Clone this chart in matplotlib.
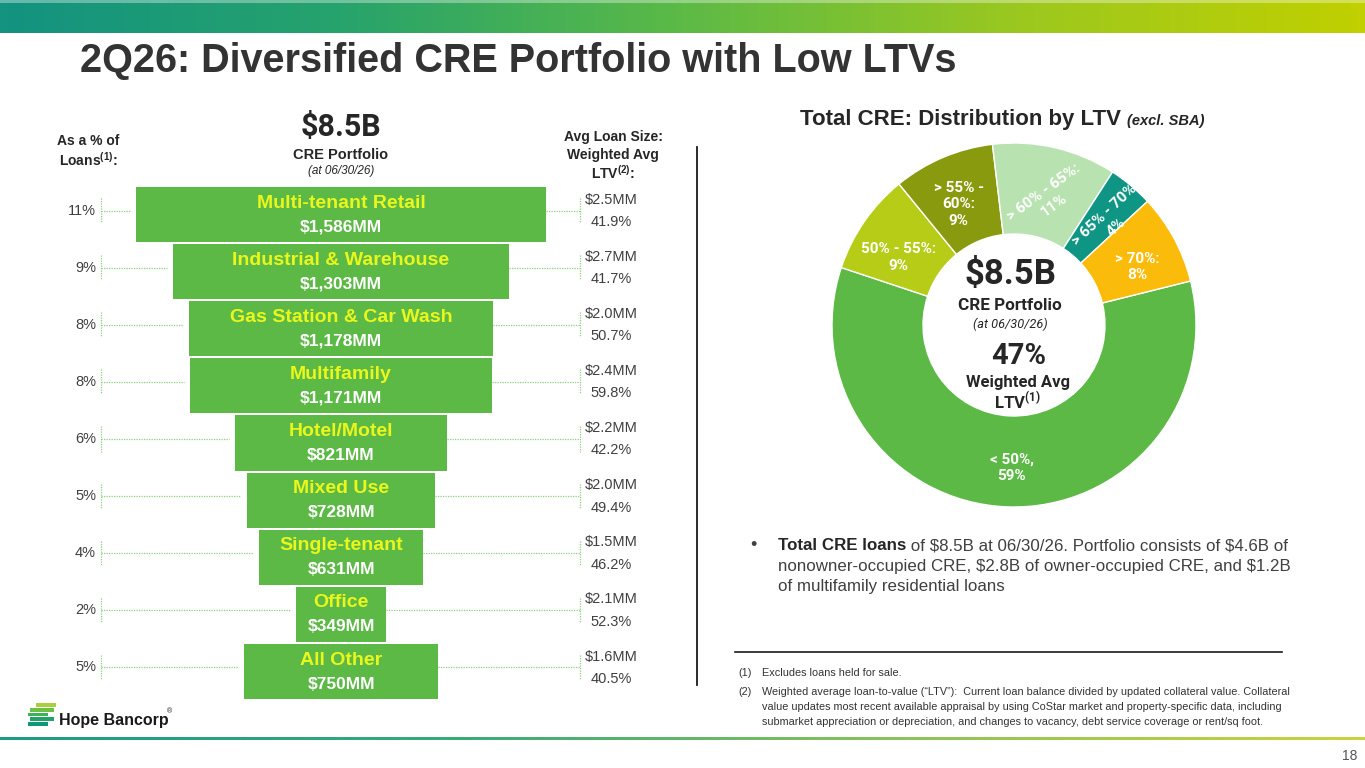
import numpy as np
import matplotlib
matplotlib.use("Agg")
import matplotlib.pyplot as plt
from matplotlib.colors import LinearSegmentedColormap
from matplotlib.patches import Rectangle

# ---- data ----
categories = ["Multi-tenant Retail", "Industrial & Warehouse", "Gas Station & Car Wash",
              "Multifamily", "Hotel/Motel", "Mixed Use", "Single-tenant", "Office", "All Other"]
balances_mm = [1586, 1303, 1178, 1171, 821, 728, 631, 349, 750]
pct_of_loans = ["11%", "9%", "8%", "8%", "6%", "5%", "4%", "2%", "5%"]
avg_loan_size = ["\\$2.5MM", "\\$2.7MM", "\\$2.0MM", "\\$2.4MM", "\\$2.2MM", "\\$2.0MM", "\\$1.5MM", "\\$2.1MM", "\\$1.6MM"]
wavg_ltv = ["41.9%", "41.7%", "50.7%", "59.8%", "42.2%", "49.4%", "46.2%", "52.3%", "40.5%"]

ltv_buckets = ["< 50%,\n59%", "50% - 55%:\n9%", "> 55% -\n60%:\n9%",
               "> 60% - 65%:\n11%", "> 65% - 70%\n4%", "> 70%:\n8%"]
ltv_share = [59, 9, 9, 11, 4, 8]
ltv_colors = ["#5cb946", "#b6cc17", "#8a9a0e", "#b9e2b1", "#0e9583", "#fbbb0a"]

NARROW = ["Liberation Sans Narrow", "Liberation Sans", "DejaVu Sans"]
ARIAL = ["Liberation Sans", "DejaVu Sans"]
ROBOTO = ["Roboto", "DejaVu Sans"]
BAR_GREEN = "#5cb946"
DARK = "#262626"

fig = plt.figure(figsize=(13.65, 7.68), dpi=100)
bg = fig.add_axes([0, 0, 1, 1])
bg.axis("off")

# header band + bottom line
hdr = LinearSegmentedColormap.from_list("hdr", ["#139380", "#27a36c", "#5cba46", "#9cc81f", "#c0d000"])
grad = np.linspace(0, 1, 400).reshape(1, -1)
bg.imshow(grad, cmap=hdr, extent=[0, 1365, 33, 0], aspect="auto", zorder=0)
bg.add_patch(Rectangle((0, 0), 1365, 2.5, color="white", alpha=0.35, lw=0, zorder=1))
foot = LinearSegmentedColormap.from_list("ft", ["#1f9a86", "#3aa97a", "#8cc35a", "#c9d43c"])
bg.imshow(grad, cmap=foot, extent=[0, 1365, 740, 737], aspect="auto", zorder=0)
bg.set_xlim(0, 1365)
bg.set_ylim(768, 0)

bg.text(80, 61, "2Q26: Diversified CRE Portfolio with Low LTVs", fontsize=28.5,
        fontweight="bold", color="#333333", family=NARROW, va="center", ha="left")

# left headers
bg.text(341, 127, "\\$8.5B", fontsize=22, fontweight="bold", color=DARK, family=ROBOTO, ha="center", va="center")
bg.text(341, 155, "CRE Portfolio", fontsize=10.5, fontweight="bold", color=DARK, family=NARROW, ha="center", va="center")
bg.text(341, 171, "(at 06/30/26)", fontsize=8.5, style="italic", color=DARK, family=NARROW, ha="center", va="center")
bg.text(88, 141, "As a % of", fontsize=10, fontweight="bold", color=DARK, family=NARROW, ha="center", va="center")
bg.text(88, 160, r"Loans$^{\mathregular{(1)}}$:", fontsize=10, fontweight="bold", color=DARK, family=NARROW, ha="center", va="center")
bg.text(613, 137, "Avg Loan Size:", fontsize=10, fontweight="bold", color=DARK, family=NARROW, ha="center", va="center")
bg.text(613, 155, "Weighted Avg", fontsize=10, fontweight="bold", color=DARK, family=NARROW, ha="center", va="center")
bg.text(613, 173, r"LTV$^{\mathregular{(2)}}$:", fontsize=10, fontweight="bold", color=DARK, family=NARROW, ha="center", va="center")

# ---- funnel bars ----
px_per_mm = 0.2585
ax = fig.add_axes([0, (768 - 700) / 768, 682 / 1365, 514 / 768])
half = 341 / px_per_mm
ax.set_xlim(-half, half)
ax.set_ylim(len(categories) - 0.5, -0.5)
ax.axis("off")


def px2x(px):
    return (px - 341) / px_per_mm


vals = np.array(balances_mm, dtype=float)
ypos = np.arange(len(categories))
ax.barh(ypos, vals, left=-vals / 2, height=0.965, color=BAR_GREEN, edgecolor="none")

conn = dict(color="#8fcf80", lw=0.9, ls=(0, (1, 1)), clip_on=False)
for i, (cat, v) in enumerate(zip(categories, vals)):
    ax.text(0, i - 0.2, cat, ha="center", va="center", fontsize=14, fontweight="bold",
            color="#eaf71c", family=NARROW)
    ax.text(0, i + 0.22, "\\${:,}MM".format(int(v)), ha="center", va="center", fontsize=12.5,
            fontweight="bold", color="white", family=NARROW)
    cy = i - 0.07
    # left connector
    x0 = px2x(101)
    ax.plot([x0, -v / 2 - 6 / px_per_mm], [cy, cy], **conn)
    ax.plot([x0, x0], [cy - 0.22, cy + 0.22], **conn)
    ax.text(px2x(96), cy, pct_of_loans[i], ha="right", va="center", fontsize=10.5,
            color="#404040", family=NARROW)
    # right connector
    x1 = px2x(580)
    ax.plot([v / 2, x1], [cy, cy], **conn)
    ax.plot([x1, x1], [cy - 0.22, cy + 0.22], **conn)
    ax.text(px2x(611), i - 0.26, avg_loan_size[i], ha="center", va="center", fontsize=10.5,
            color="#404040", family=NARROW)
    ax.text(px2x(611), i + 0.13, wavg_ltv[i], ha="center", va="center", fontsize=10.5,
            color="#404040", family=NARROW)

# separator
bg.plot([697, 697], [147, 685], color="#1a1a1a", lw=1.3)

renderer = fig.canvas.get_renderer()

# ---- donut ----
tt = bg.text(800, 120, "Total CRE: Distribution by LTV ", fontsize=16, fontweight="bold", color=DARK,
             family=ARIAL, ha="left", va="center")
tb = tt.get_window_extent(renderer)
bg.text(800 + tb.width, 121, "(excl. SBA)", fontsize=10.5, fontweight="bold", style="italic", color=DARK,
        family=ARIAL, ha="left", va="center")

pax = fig.add_axes([832 / 1365, (768 - 325 - 182) / 768, 364 / 1365, 364 / 768])
wedges, _ = pax.pie(ltv_share, colors=ltv_colors, startangle=14, counterclock=False, radius=1,
                    wedgeprops=dict(width=0.5, edgecolor="white", linewidth=1.0))
pax.set_xlim(-1, 1)
pax.set_ylim(-1, 1)
rotations = [0, 0, 0, 36, 43, 0]
radii = [0.78, 0.74, 0.75, 0.73, 0.79, 0.75]
# small nudges (pixels, x right / y down) to sit labels like the slide
nudges = [(3, 1), (-5, 9), (-2, 5), (5, 3), (4, 6), (3, 7)]
for w, lab, rot, r, (nx, ny) in zip(wedges, ltv_buckets, rotations, radii, nudges):
    mid = np.deg2rad((w.theta1 + w.theta2) / 2)
    pax.text(r * np.cos(mid) + nx / 182, r * np.sin(mid) - ny / 182, lab, ha="center", va="center",
             fontsize=11, fontweight="bold", color="white", family=ROBOTO, rotation=rot,
             linespacing=1.25)

bg.text(1010, 275, "\\$8.5B", fontsize=25, fontweight="bold", color=DARK, family=ROBOTO, ha="center", va="center")
bg.text(1010, 305, "CRE Portfolio", fontsize=12.3, fontweight="bold", color=DARK, family=ROBOTO, ha="center", va="center")
bg.text(1010, 324, "(at 06/30/26)", fontsize=9.2, style="italic", color=DARK, family=ROBOTO, ha="center", va="center")
bg.text(1019, 356, "47%", fontsize=21, fontweight="bold", color=DARK, family=ROBOTO, ha="center", va="center")
bg.text(1018, 383, "Weighted Avg", fontsize=12, fontweight="bold", color=DARK, family=ROBOTO, ha="center", va="center")
bg.text(1017, 401, r"LTV$^{\mathregular{(1)}}$", fontsize=12, fontweight="bold", color=DARK, family=ROBOTO, ha="center", va="center")

# ---- bullet text ----
bx = 778
bg.text(753, 545, "\u2022", fontsize=13, color="#404040", family=ARIAL, ha="center", va="center")
t1 = bg.text(bx, 546, "Total CRE loans", fontsize=12.2, fontweight="bold", color=DARK, family=ARIAL,
             ha="left", va="center")
bb = t1.get_window_extent(renderer)
bg.text(bx + bb.width, 546, " of \\$8.5B at 06/30/26. Portfolio consists of \\$4.6B of", fontsize=12.2,
        color="#404040", family=ARIAL, ha="left", va="center")
bg.text(bx, 566, "nonowner-occupied CRE, \\$2.8B of owner-occupied CRE, and \\$1.2B", fontsize=12.2,
        color="#404040", family=ARIAL, ha="left", va="center")
bg.text(bx, 586, "of multifamily residential loans", fontsize=12.2, color="#404040", family=ARIAL,
        ha="left", va="center")

bg.plot([735, 1282], [652, 652], color="#1a1a1a", lw=1.2)

fn = dict(fontsize=7.8, color="#333333", family=ARIAL, ha="left", va="center")
bg.text(738, 673, "(1)", **fn)
bg.text(762, 673, "Excludes loans held for sale.", **fn)
bg.text(738, 692, "(2)", **fn)
bg.text(762, 692, "Weighted average loan-to-value (\u201cLTV\u201d):  Current loan balance divided by updated collateral value. Collateral", **fn)
bg.text(762, 707, "value updates most recent available appraisal by using CoStar market and property-specific data, including", **fn)
bg.text(762, 722, "submarket appreciation or depreciation, and changes to vacancy, debt service coverage or rent/sq foot.", **fn)

# ---- logo ----
logo_cols = ["#a6d13a", "#6cc045", "#3db257", "#1fa36a", "#0d9877"]
logo_x = [36, 30, 28, 30, 28]
for k, c in enumerate(logo_cols):
    bg.add_patch(Rectangle((logo_x[k], 703 + k * 4.8), 20 + (k % 2) * 4, 3.8, color=c, lw=0))
bg.text(59, 721, "Hope Bancorp", fontsize=11.5, fontweight="bold", color="#1a1a1a", family=ARIAL,
        ha="left", va="center")
bg.text(167, 712, "\u00ae", fontsize=5, color="#1a1a1a", family=ARIAL, ha="left", va="center")
bg.text(1350, 756, "18", fontsize=10, color="#555555", family=ARIAL, ha="center", va="center")

fig.savefig("out.png", dpi=100)
